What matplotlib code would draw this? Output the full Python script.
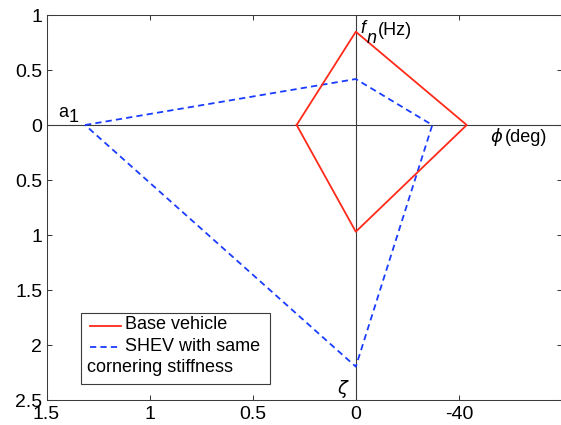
import numpy as np
from matplotlib import pyplot as plt
from matplotlib.patches import Rectangle

plt.rcParams['font.family'] = ['Liberation Sans', 'DejaVu Sans']
plt.rcParams['lines.scale_dashes'] = False

# eixo x: posicoes e rotulos (escala mista, como no original)
xticks = [-1.5, -1.0, -0.5, 0.0, 0.5, 1.0]
xlabels = ['1.5', '1', '0.5', '0', '-40', '']
yticks = [1.0, 0.5, 0.0, -0.5, -1.0, -1.5, -2.0, -2.5]
ylabels = ['1', '0.5', '0', '0.5', '1', '1.5', '2', '2.5']

# Base vehicle (losango vermelho)
base_x = [-0.287, 0.0, 0.538, 0.0, -0.287]
base_y = [0.0, 0.848, 0.0, -0.970, 0.0]

# SHEV com mesma rigidez de curva (azul tracejado)
shev_x = [-1.313, 0.0, 0.371, 0.0, -1.313]
shev_y = [0.0, 0.418, 0.0, -2.197, 0.0]

cinza = '#3c3c3c'
vermelho = '#ff2a1a'
azul = '#1a3cff'

fig = plt.figure(figsize=(5.61, 4.25), dpi=100)
ax = fig.add_axes([46.5/561, 25/425, 515.5/561, 385/425])

ax.axhline(0, color=cinza, lw=0.8, zorder=1)
ax.axvline(0, color=cinza, lw=0.8, zorder=1)

ax.plot(base_x, base_y, '-', color=vermelho, lw=1.3, zorder=3)
ax.plot(shev_x, shev_y, '--', color=azul, lw=1.3, dashes=(4.5, 3), zorder=2)

ax.set_xlim(-1.5, 1.0)
ax.set_ylim(-2.5, 1.0)
ax.set_xticks(xticks)
ax.set_xticklabels(xlabels)
ax.set_yticks(yticks)
ax.set_yticklabels(ylabels)
ax.tick_params(direction='in', length=3.6, width=0.75, color=cinza,
               labelsize=14, top=True, right=True)
ax.tick_params(axis='x', pad=4)
ax.tick_params(axis='y', pad=3)
for s in ax.spines.values():
    s.set_color(cinza)
    s.set_linewidth(0.75)
ax.spines['right'].set_visible(False)

# rotulos dos eixos
ax.text(0.0204, 0.836, 'f', fontsize=13, style='italic', va='baseline')
ax.text(0.054, 0.745, 'n', fontsize=13, style='italic', va='baseline')
ax.text(0.108, 0.818, '(Hz)', fontsize=13, va='baseline')
ax.text(0.650, -0.155, r'$\phi$', fontsize=13, va='baseline')
ax.text(0.7236, -0.155, '(deg)', fontsize=13, va='baseline')
ax.text(-0.060, -2.40, r'$\zeta$', fontsize=13, ha='center', va='center')
ax.text(-1.444, 0.073, 'a', fontsize=13, va='baseline')
ax.text(-1.391, 0.0273, '1', fontsize=13, va='baseline')

# legenda feita a mao
ax.add_patch(Rectangle((0.0669, 0.0416), 0.3667, 0.1844, transform=ax.transAxes,
                       facecolor='white', edgecolor=cinza, lw=0.8, zorder=5))
ax.plot([0.0844, 0.1445], [0.193, 0.193], '-', color=vermelho, lw=1.3,
        transform=ax.transAxes, zorder=6)
ax.plot([0.0844, 0.1445], [0.1384, 0.1384], '--', color=azul, lw=1.3,
        dashes=(4.5, 3), transform=ax.transAxes, zorder=6)
ax.text(0.1523, 0.195, 'Base vehicle', fontsize=13, va='center',
        transform=ax.transAxes, zorder=7)
ax.text(0.1523, 0.138, 'SHEV with same', fontsize=13, va='center',
        transform=ax.transAxes, zorder=7)
ax.text(0.0786, 0.085, 'cornering stiffness', fontsize=13, va='center',
        transform=ax.transAxes, zorder=7)

fig.savefig('out.png', dpi=100)
